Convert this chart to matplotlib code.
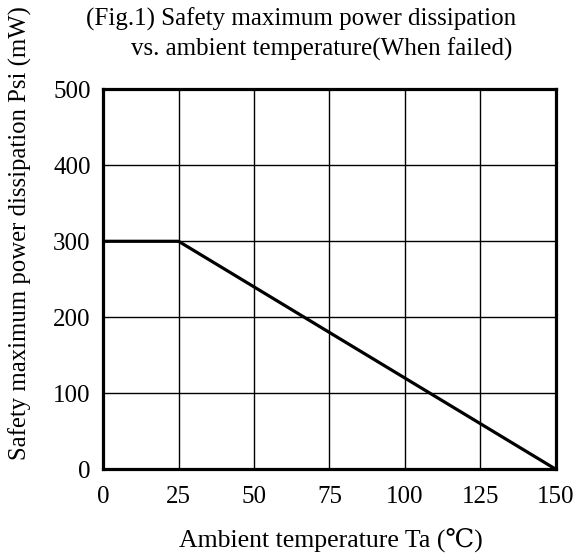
import matplotlib
matplotlib.use('Agg')
import matplotlib.pyplot as plt

# derating curve (When failed)
temp = [0, 25, 150]
power = [300, 300, 0]
xticks = [0, 25, 50, 75, 100, 125, 150]
yticks = [0, 100, 200, 300, 400, 500]

plt.rcParams['font.family'] = ['Liberation Serif', 'DejaVu Serif']

fig = plt.figure(figsize=(5.76, 5.58), dpi=100)
ax = fig.add_axes([0.179, 0.159, 0.786, 0.681])

ax.plot(temp, power, color='black', linewidth=2.3, solid_capstyle='butt')
ax.set_xlim(0, 150)
ax.set_ylim(0, 500)
ax.set_xticks(xticks)
ax.set_yticks(yticks)
ax.grid(color='black', linewidth=1.0)
ax.tick_params(length=0, labelsize=18)
ax.tick_params(axis='x', pad=12)
ax.tick_params(axis='y', pad=9)
for s in ax.spines.values():
    s.set_linewidth(2.3)

fig.text(331 / 576, 1 - 540 / 558, 'Ambient temperature Ta (\u2103)',
         fontsize=18.5, ha='center', va='center')
fig.text(20 / 576, 1 - 233 / 558, 'Safety maximum power dissipation Psi (mW)',
         fontsize=17.8, rotation=90, ha='center', va='center')

fig.text(86 / 576, 1 - 19 / 558, '(Fig.1) Safety maximum power dissipation',
         fontsize=18, va='center')
fig.text(131 / 576, 1 - 49 / 558, 'vs. ambient temperature(When failed)',
         fontsize=18, va='center')

fig.savefig('out.png', dpi=100)
